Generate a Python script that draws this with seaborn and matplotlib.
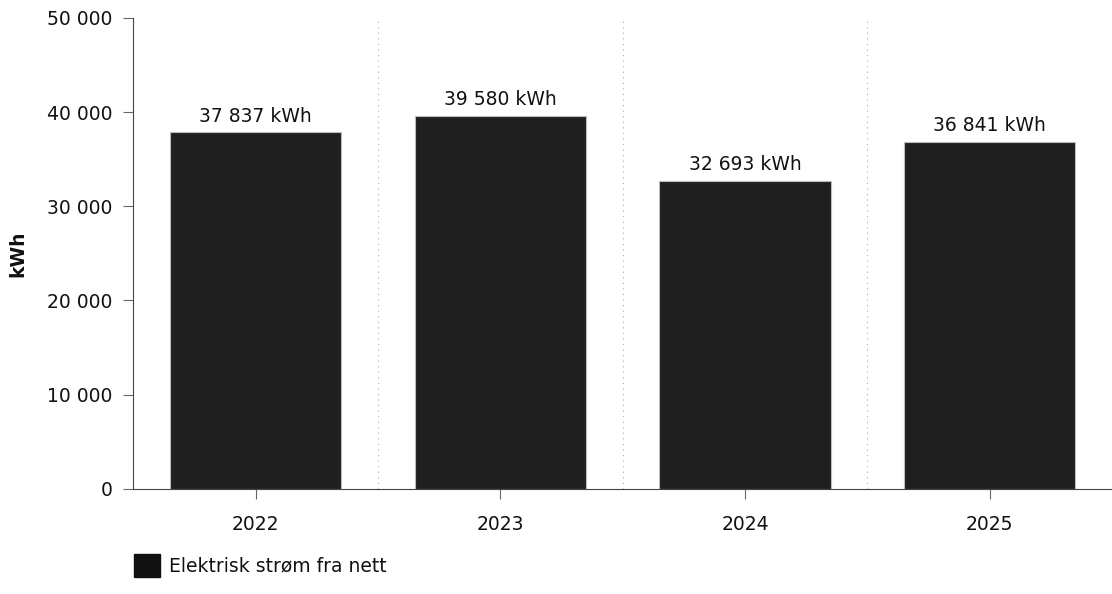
import matplotlib
matplotlib.use("Agg")
import matplotlib.pyplot as plt
import seaborn as sns
import pandas as pd
from matplotlib.ticker import FuncFormatter
from matplotlib.patches import Patch

years = ["2022", "2023", "2024", "2025"]
consumption = [37837, 39580, 32693, 36841]
series_name = "Elektrisk strøm fra nett"

df = pd.DataFrame({"year": years, "kwh": consumption})

sns.set_style("white")
plt.rcParams["font.family"] = ["DejaVu Sans"]

fig = plt.figure(figsize=(11.12, 5.94), dpi=100)
ax = fig.add_axes([0.12, 0.177, 0.88, 0.793])

sns.barplot(data=df, x="year", y="kwh", color="#1f1f1f", width=0.70,
            edgecolor="#bbbbbb", linewidth=0.8, saturation=1, ax=ax)

def space_thousands(v, pos=None):
    return f"{int(v):,}".replace(",", " ")

for i, v in enumerate(consumption):
    ax.text(i, v + 700, f"{space_thousands(v)} kWh", ha="center", va="bottom",
            fontsize=13.5, color="#111111")

ax.set_ylim(0, 50000)
ax.set_xlim(-0.5, 3.5)
ax.set_yticks(range(0, 50001, 10000))
ax.yaxis.set_major_formatter(FuncFormatter(space_thousands))

# dotted separators between categories
for b in [0.5, 1.5, 2.5]:
    ax.axvline(b, color="#aaaaaa", linestyle=(0, (1, 4)), linewidth=0.8, zorder=0)

for s in ["top", "right"]:
    ax.spines[s].set_visible(False)
ax.spines["left"].set_color("#444444")
ax.spines["bottom"].set_color("#444444")

ax.tick_params(axis="y", length=7, width=0.8, color="#666666", labelsize=13.5,
               labelcolor="#111111", pad=8, left=True)
ax.tick_params(axis="x", length=7, width=0.8, color="#666666", labelsize=13.5,
               labelcolor="#111111", pad=12, bottom=True)

ax.set_xlabel("")
ax.set_ylabel("kWh", fontsize=13.5, fontweight="bold", color="#111111", labelpad=14)

handle = Patch(facecolor="#111111", edgecolor="#111111")
fig.legend([handle], [series_name], loc="lower left", bbox_to_anchor=(0.105, 0.0),
           frameon=False, fontsize=13.5, handlelength=1.4, handleheight=1.5,
           handletextpad=0.5, labelcolor="#111111")

fig.savefig("out.png", dpi=100)
